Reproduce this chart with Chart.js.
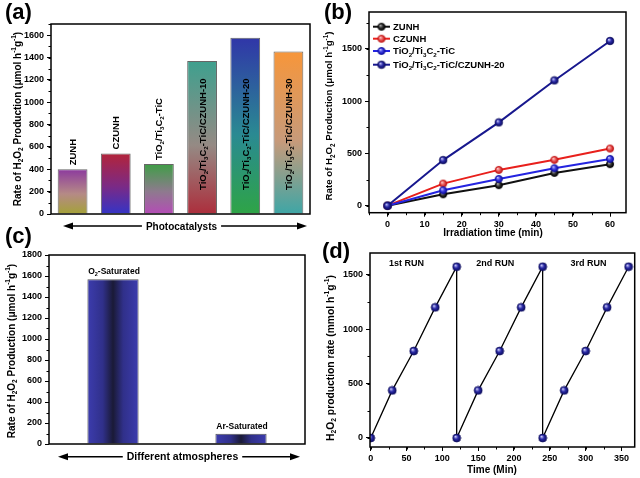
<!DOCTYPE html>
<html><head><meta charset="utf-8">
<script src="https://cdn.jsdelivr.net/npm/chart.js@4.4.1/dist/chart.umd.min.js"></script>
<style>
body{margin:0;background:#fff;}
#wrap{position:relative;width:640px;height:478px;overflow:hidden;background:#fff;}
canvas{position:absolute;}
</style></head>
<body>
<div id="wrap">
<canvas id="ca" width="320" height="240" style="left:0;top:0"></canvas>
<canvas id="cb" width="320" height="240" style="left:320px;top:0"></canvas>
<canvas id="cc" width="320" height="256" style="left:0;top:222px"></canvas>
<canvas id="cd" width="320" height="256" style="left:320px;top:222px"></canvas>
</div>
<script>
// ---------- DATA ----------
// (a) photocatalysts
const catsA = ['ZUNH','CZUNH','TiO_{2}/Ti_{3}C_{2}-TiC','TiO_{2}/Ti_{3}C_{2}-TiC/CZUNH-10','TiO_{2}/Ti_{3}C_{2}-TiC/CZUNH-20','TiO_{2}/Ti_{3}C_{2}-TiC/CZUNH-30'];
const valsA = [400, 542, 447, 1368, 1576, 1454];
const yTicksA = [0,200,400,600,800,1000,1200,1400,1600];
// (b) time course
const timeB = [0,15,30,45,60];
const zunhB = [0,109,196,313,397];
const czunhB = [0,211,342,438,546];
const ticB = [0,147,256,358,447];
const comp20B = [0,436,796,1197,1574];
const namesB = ['ZUNH','CZUNH','TiO_{2}/Ti_{3}C_{2}-TiC','TiO_{2}/Ti_{3}C_{2}-TiC/CZUNH-20'];
const xTicksB = [0,10,20,30,40,50,60];
const yTicksB = [0,500,1000,1500];
// (c) atmospheres
const catsC = ['O_{2}-Saturated','Ar-Saturated'];
const valsC = [1570, 98];
const yTicksC = [0,200,400,600,800,1000,1200,1400,1600,1800];
// (d) cycling
const timeD = [0,30,60,90,120,120,150,180,210,240,240,270,300,330,360];
const rateD = [0,438,800,1202,1576,0,438,800,1202,1576,0,438,800,1202,1576];
const runsD = ['1st RUN','2nd RUN','3rd RUN'];
const xTicksD = [0,50,100,150,200,250,300,350];
const yTicksD = [0,500,1000,1500];

// ---------- HELPERS ----------
const FAM = '"Liberation Sans", Arial, sans-serif';
function fnt(sz){ return 'bold ' + sz + 'px ' + FAM; }
function parseRich(s){
  const out=[]; const re=/([_^])\{([^}]*)\}/g; let last=0, m;
  while((m=re.exec(s))){ if(m.index>last) out.push({t:s.slice(last,m.index),k:''}); out.push({t:m[2],k:m[1]}); last=re.lastIndex; }
  if(last<s.length) out.push({t:s.slice(last),k:''});
  return out;
}
function richWidth(ctx,s,sz){
  let w=0; for(const g of parseRich(s)){ ctx.font=fnt(g.k?sz*0.65:sz); w+=ctx.measureText(g.t).width; } return w;
}
function drawRich(ctx,s,x,y,sz,align,rot,vmid,color){
  ctx.save(); ctx.translate(x,y); if(rot) ctx.rotate(rot);
  ctx.fillStyle=color||'#000'; ctx.textBaseline='alphabetic'; ctx.textAlign='left';
  const w=richWidth(ctx,s,sz);
  let cx = align==='center' ? -w/2 : (align==='right' ? -w : 0);
  const by = vmid ? sz*0.36 : 0;
  for(const g of parseRich(s)){
    const gs = g.k ? sz*0.65 : sz; ctx.font=fnt(gs);
    const dy = g.k==='_' ? sz*0.22 : (g.k==='^' ? -sz*0.42 : 0);
    ctx.fillText(g.t,cx,by+dy); cx+=ctx.measureText(g.t).width;
  }
  ctx.restore();
}
function dblArrow(ctx,x1,x2,y,label,lx,sz){
  ctx.save(); ctx.strokeStyle='#000'; ctx.fillStyle='#000'; ctx.lineWidth=1.6;
  const w=richWidth(ctx,label,sz); const l=lx-w/2-4, r=lx+w/2+4;
  ctx.beginPath(); ctx.moveTo(x1+6,y); ctx.lineTo(l,y); ctx.moveTo(r,y); ctx.lineTo(x2-6,y); ctx.stroke();
  ctx.beginPath(); ctx.moveTo(x1,y); ctx.lineTo(x1+10,y-3.5); ctx.lineTo(x1+10,y+3.5); ctx.closePath(); ctx.fill();
  ctx.beginPath(); ctx.moveTo(x2,y); ctx.lineTo(x2-10,y-3.5); ctx.lineTo(x2-10,y+3.5); ctx.closePath(); ctx.fill();
  ctx.restore();
  drawRich(ctx,label,lx,y,sz,'center',0,true);
}
function frame(chart){
  const a=chart.chartArea, ctx=chart.ctx;
  ctx.save(); ctx.strokeStyle='#000'; ctx.lineWidth=1.5;
  ctx.strokeRect(a.left,a.top,a.right-a.left,a.bottom-a.top); ctx.restore();
}
function minorY(chart,step,len){
  const s=chart.scales.y, a=chart.chartArea, ctx=chart.ctx;
  ctx.save(); ctx.strokeStyle='#000'; ctx.lineWidth=1;
  for(let v=Math.ceil(s.min/step)*step; v<=s.max; v+=step){
    const p=Math.round(s.getPixelForValue(v))+0.5; ctx.beginPath(); ctx.moveTo(a.left,p); ctx.lineTo(a.left-len,p); ctx.stroke();
  }
  ctx.restore();
}
function minorX(chart,step,len){
  const s=chart.scales.x, a=chart.chartArea, ctx=chart.ctx;
  ctx.save(); ctx.strokeStyle='#000'; ctx.lineWidth=1;
  for(let v=Math.ceil(s.min/step)*step; v<=s.max; v+=step){
    const p=Math.round(s.getPixelForValue(v))+0.5; ctx.beginPath(); ctx.moveTo(p,a.bottom); ctx.lineTo(p,a.bottom+len); ctx.stroke();
  }
  ctx.restore();
}
function sphere(base,hi,dark,r){
  const c=document.createElement('canvas'); const s=Math.ceil(2*r+2); c.width=c.height=s;
  const x=c.getContext('2d'); const cx=s/2;
  const g=x.createRadialGradient(cx-r*0.35,cx-r*0.4,r*0.05,cx,cx,r);
  g.addColorStop(0,hi); g.addColorStop(0.5,base); g.addColorStop(1,dark);
  x.fillStyle=g; x.beginPath(); x.arc(cx,cx,r,0,Math.PI*2); x.fill();
  x.lineWidth=0.8; x.strokeStyle=dark; x.stroke(); return c;
}
const tickFont = sz => ({family:FAM, weight:'bold', size:sz});
const plainNum = v => String(v);
function yAxis(min,max,ticks,width,sz){
  return {min:min,max:max,
    afterBuildTicks:s=>{ s.ticks=ticks.map(v=>({value:v})); },
    ticks:{font:tickFont(sz),color:'#000',padding:3,callback:plainNum},
    grid:{drawOnChartArea:false,drawTicks:true,tickLength:4,color:'#000',lineWidth:1},
    border:{display:false},
    afterFit:s=>{ s.width=width; }};
}
const common = {responsive:false, animation:false, events:[],
  plugins:{legend:{display:false},tooltip:{enabled:false}}};

// ---------- (a) ----------
const gradA = [['#8c3a9e','#b58a86','#a4a238'],['#b3243a','#7a2a86','#3434c6'],['#3f9e46','#8e7a8e','#b44cb6'],
               ['#3ea08e','#958a84','#ac2e3c'],['#3036a8','#2a8a92','#2ea446'],['#f7963a','#c79a7a','#3ea6a6']];
new Chart(document.getElementById('ca'),{
  type:'bar',
  data:{labels:catsA,datasets:[{data:valsA,
    backgroundColor:c=>{
      const ch=c.chart; const y=ch.scales.y; const col=gradA[c.dataIndex%gradA.length];
      if(!y || !ch.chartArea) return col[0];
      const g=ch.ctx.createLinearGradient(0,y.getPixelForValue(valsA[c.dataIndex]),0,y.getPixelForValue(0));
      g.addColorStop(0,col[0]); g.addColorStop(0.55,col[1]); g.addColorStop(1,col[2]); return g;
    },
    borderColor:'#666',borderWidth:1,barPercentage:0.69,categoryPercentage:1}]},
  options:Object.assign({},common,{
    layout:{padding:{top:24,right:10,left:0,bottom:0}},
    scales:{
      x:{ticks:{display:false},grid:{display:false},border:{display:false},afterFit:s=>{s.height=26;}},
      y:yAxis(0,1700,yTicksA,51,9)
    }}),
  plugins:[{id:'decoA',afterDraw(ch){
    const ctx=ch.ctx, x=ch.scales.x, y=ch.scales.y;
    frame(ch); minorY(ch,100,2.5);
    catsA.forEach((lab,i)=>{
      const cx=x.getPixelForValue(i);
      const v=valsA[i];
      if(v>1000) drawRich(ctx,lab,cx,y.getPixelForValue(0)-24,9.5,'left',-Math.PI/2,true);
      else drawRich(ctx,lab,cx,y.getPixelForValue(v)-4,9.5,'left',-Math.PI/2,true);
    });
    drawRich(ctx,'Rate of H_{2}O_{2} Production (\u03bcmol h^{-1}g^{-1})',17,119,10,'center',-Math.PI/2,true);
    dblArrow(ctx,63,307,226,'Photocatalysts',181.5,10);
    ctx.save(); ctx.font=fnt(22); ctx.fillStyle='#000'; ctx.fillText('(a)',5,19); ctx.restore();
  }}]
});

// ---------- (b) ----------
const stylesB = [
  {c:'#111111', s:sphere('#333333','#bbbbbb','#000000',3.6)},
  {c:'#e8201c', s:sphere('#e85a5a','#ffd0d0','#c01010',3.6)},
  {c:'#2424e0', s:sphere('#3a3ae0','#c8c8ff','#1010a0',3.6)},
  {c:'#18188e', s:sphere('#2a2aa8','#d0d0ff','#0c0c60',3.8)}
];
const seriesB=[zunhB,czunhB,ticB,comp20B];
new Chart(document.getElementById('cb'),{
  type:'line',
  data:{datasets:seriesB.map((arr,k)=>({label:namesB[k],data:timeB.map((t,i)=>({x:t,y:arr[i]})),
    borderColor:stylesB[k].c,borderWidth:2,pointStyle:stylesB[k].s,pointRadius:4,tension:0,order:3-k}))},
  options:Object.assign({},common,{
    layout:{padding:{top:12,right:14,left:0,bottom:0}},
    scales:{
      x:{type:'linear',min:-5,max:64.3,
        afterBuildTicks:s=>{ s.ticks=xTicksB.map(v=>({value:v})); },
        ticks:{font:tickFont(9),color:'#000',padding:2,callback:plainNum},
        grid:{drawOnChartArea:false,drawTicks:true,tickLength:4,color:'#000'},
        border:{display:false},
        afterFit:s=>{ s.height=240-212.7; }},
      y:yAxis(-67,1851,yTicksB,49,9)
    }}),
  plugins:[{id:'decoB',afterDraw(ch){
    const ctx=ch.ctx;
    frame(ch); minorY(ch,250,2.5); minorX(ch,5,2.5);
    const ys=[26.7,38.7,51,64.7];
    namesB.forEach((n,k)=>{
      ctx.save(); ctx.strokeStyle=stylesB[k].c; ctx.lineWidth=2;
      ctx.beginPath(); ctx.moveTo(53,ys[k]); ctx.lineTo(70,ys[k]); ctx.stroke();
      const im=stylesB[k].s; ctx.drawImage(im,61.5-im.width/2,ys[k]-im.height/2); ctx.restore();
      drawRich(ctx,n,73,ys[k],9.5,'left',0,true);
    });
    drawRich(ctx,'Rate of H_{2}O_{2} Production (\u03bcmol h^{-1}g^{-1})',9,116,9.7,'center',-Math.PI/2,true);
    drawRich(ctx,'Irradiation time (min)',173,232.5,10,'center',0,true);
    ctx.save(); ctx.font=fnt(22); ctx.fillStyle='#000'; ctx.fillText('(b)',4,19); ctx.restore();
  }}]
});

// ---------- (c) ----------
new Chart(document.getElementById('cc'),{
  type:'bar',
  data:{labels:catsC,datasets:[{data:valsC,
    backgroundColor:c=>{
      const ch=c.chart; const x=ch.scales.x;
      if(!x || !ch.chartArea) return '#33339a';
      const cx=x.getPixelForValue(c.dataIndex); const hw=(ch.chartArea.right-ch.chartArea.left)/catsC.length*0.4/2;
      const g=ch.ctx.createLinearGradient(cx-hw,0,cx+hw,0);
      g.addColorStop(0,'#3c3cae'); g.addColorStop(0.3,'#30308a'); g.addColorStop(0.5,'#1a1a36'); g.addColorStop(0.7,'#30308a'); g.addColorStop(1,'#3c3cae');
      return g;
    },
    borderColor:'#555',borderWidth:1,barPercentage:0.4,categoryPercentage:1}]},
  options:Object.assign({},common,{
    layout:{padding:{top:33,right:15,left:0,bottom:0}},
    scales:{
      x:{ticks:{display:false},grid:{display:false},border:{display:false},afterFit:s=>{s.height=34;}},
      y:yAxis(0,1800,yTicksC,49,9)
    }}),
  plugins:[{id:'decoC',afterDraw(ch){
    const ctx=ch.ctx, x=ch.scales.x, y=ch.scales.y;
    frame(ch); minorY(ch,100,2.5);
    catsC.forEach((lab,i)=>{
      drawRich(ctx,lab,x.getPixelForValue(i)+1,y.getPixelForValue(valsC[i])-5,8.5,'center',0,false);
    });
    drawRich(ctx,'Rate of H_{2}O_{2} Production (\u03bcmol h^{-1}g^{-1})',11,129,10,'center',-Math.PI/2,true);
    dblArrow(ctx,58,300,234.7,'Different atmospheres',182.5,10.5);
    ctx.save(); ctx.font=fnt(22); ctx.fillStyle='#000'; ctx.fillText('(c)',5,21); ctx.restore();
  }}]
});

// ---------- (d) ----------
const sphD = sphere('#2a2aa8','#d8d8ff','#0c0c60',4);
new Chart(document.getElementById('cd'),{
  type:'line',
  data:{datasets:[{data:timeD.map((t,i)=>({x:t,y:rateD[i]})),borderColor:'#000',borderWidth:1.3,
    pointStyle:sphD,pointRadius:4,tension:0}]},
  options:Object.assign({},common,{
    layout:{padding:{top:31,right:4,left:0,bottom:0}},
    scales:{
      x:{type:'linear',min:-1,max:368.5,
        afterBuildTicks:s=>{ s.ticks=xTicksD.map(v=>({value:v})); },
        ticks:{font:tickFont(9),color:'#000',padding:2,callback:plainNum},
        grid:{drawOnChartArea:false,drawTicks:true,tickLength:4,color:'#000'},
        border:{display:false},
        afterFit:s=>{ s.height=31; }},
      y:yAxis(-83,1702,yTicksD,50,9)
    }}),
  plugins:[{id:'decoD',afterDraw(ch){
    const ctx=ch.ctx, x=ch.scales.x, y=ch.scales.y;
    frame(ch); minorY(ch,250,2.5); minorX(ch,25,2.5);
    const runX=[50,174,304];
    runsD.forEach((r,i)=>drawRich(ctx,r,x.getPixelForValue(runX[i]),y.getPixelForValue(1610),9,'center',0,true));
    drawRich(ctx,'H_{2}O_{2} production rate (mmol h^{-1}g^{-1})',10,136,10.3,'center',-Math.PI/2,true);
    drawRich(ctx,'Time (Min)',172,247.5,10,'center',0,true);
    ctx.save(); ctx.font=fnt(22); ctx.fillStyle='#000'; ctx.fillText('(d)',2,36); ctx.restore();
  }}]
});
</script>
</body></html>
